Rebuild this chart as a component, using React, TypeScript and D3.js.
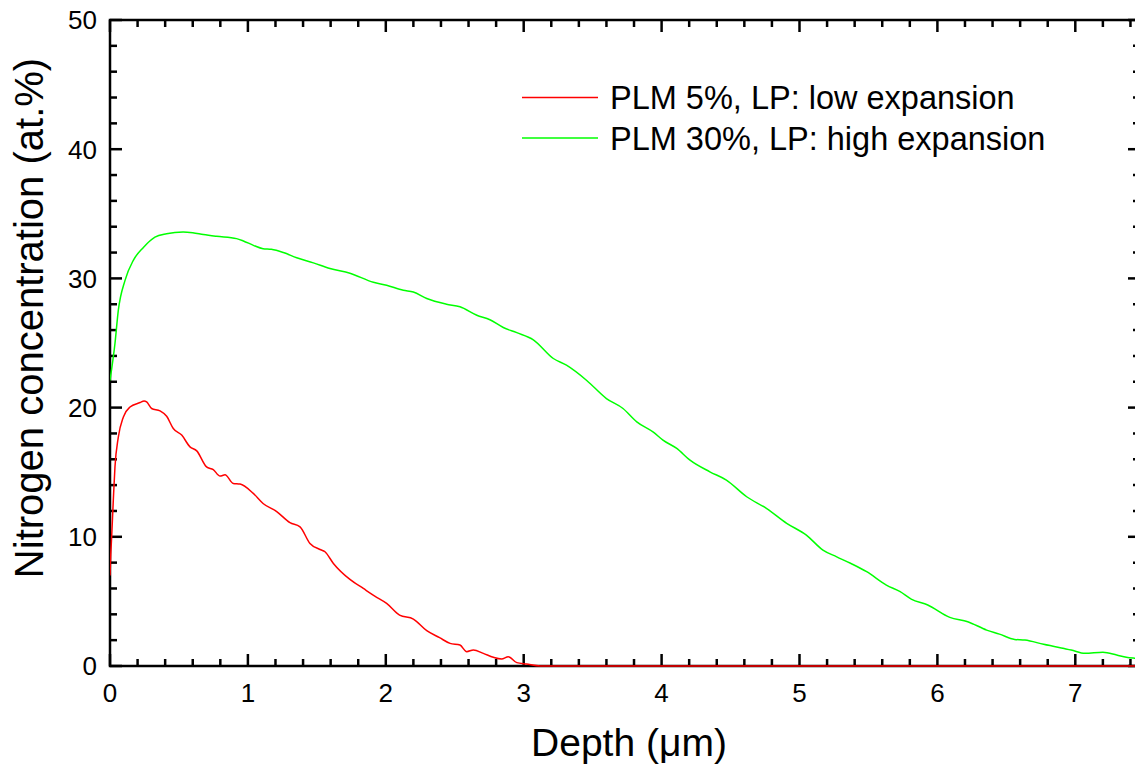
import React from "react";
import * as d3 from "d3";

const W = 1135;
const H = 769;

// Depth (µm) / nitrogen concentration (at.%)
const greenDepth = [0, 0.036, 0.06, 0.109, 0.169, 0.242, 0.326, 0.41, 0.53, 0.6, 0.677, 0.773, 0.918, 0.967, 1.04, 1.11, 1.17, 1.257, 1.354, 1.475, 1.595, 1.74, 1.91, 2.006, 2.127, 2.2, 2.297, 2.44, 2.538, 2.66, 2.755, 2.852, 2.95, 3.07, 3.215, 3.31, 3.457, 3.6, 3.72, 3.82, 3.94, 4.01, 4.11, 4.206, 4.35, 4.47, 4.617, 4.76, 4.907, 5.05, 5.17, 5.27, 5.37, 5.487, 5.63, 5.73, 5.81, 5.93, 6.09, 6.22, 6.357, 6.45, 6.56, 6.635, 6.77, 6.91, 6.97, 7.07, 7.2, 7.3, 7.37, 7.43, 7.5];
const greenConc = [22.1, 24.96, 27.5, 29.85, 31.4, 32.4, 33.2, 33.46, 33.6, 33.54, 33.4, 33.26, 33.08, 32.9, 32.56, 32.3, 32.25, 32.0, 31.6, 31.2, 30.76, 30.4, 29.7, 29.47, 29.08, 28.95, 28.44, 28.0, 27.8, 27.15, 26.8, 26.2, 25.8, 25.25, 23.8, 23.28, 22.1, 20.7, 19.93, 18.9, 18.1, 17.48, 16.84, 15.93, 15.03, 14.39, 13.1, 12.2, 11.04, 10.13, 8.97, 8.45, 7.95, 7.3, 6.26, 5.75, 5.18, 4.72, 3.76, 3.43, 2.78, 2.47, 2.06, 2.01, 1.68, 1.37, 1.24, 0.98, 1.06, 0.85, 0.67, 0.6, 0.55];

const redDepth = [0, 0.005, 0.012, 0.024, 0.036, 0.06, 0.097, 0.145, 0.218, 0.247, 0.266, 0.302, 0.363, 0.411, 0.459, 0.52, 0.58, 0.629, 0.7, 0.749, 0.798, 0.834, 0.894, 0.943, 1.039, 1.11, 1.209, 1.305, 1.378, 1.45, 1.523, 1.559, 1.62, 1.74, 1.837, 1.92, 2.006, 2.1, 2.2, 2.297, 2.39, 2.466, 2.538, 2.587, 2.635, 2.707, 2.78, 2.84, 2.888, 2.95, 3.02, 3.12, 4, 5, 6, 7, 7.5];
const redConc = [7.0, 8.5, 10.0, 12.84, 15.4, 17.7, 19.28, 20.05, 20.39, 20.52, 20.44, 19.93, 19.75, 19.33, 18.38, 17.87, 16.96, 16.65, 15.41, 15.2, 14.7, 14.8, 14.13, 14.08, 13.36, 12.58, 11.95, 11.1, 10.77, 9.49, 9.02, 8.84, 7.94, 6.7, 6.0, 5.41, 4.85, 3.94, 3.63, 2.73, 2.19, 1.75, 1.62, 1.11, 1.24, 0.98, 0.67, 0.54, 0.72, 0.26, 0.15, 0, 0, 0, 0, 0, 0];

const xTicks = [0, 1, 2, 3, 4, 5, 6, 7];
const yTicks = [0, 10, 20, 30, 40, 50];
const seriesNames = ["PLM 5%, LP: low expansion", "PLM 30%, LP: high expansion"];
const seriesColors = ["#ff0000", "#00ff00"];

const FONT = "Arial, 'Liberation Sans', Helvetica, sans-serif";

export default function App() {
  const left = 110, top = 20, right = 1140, bottom = 666;
  const x = d3.scaleLinear().domain([0, (right - left) / 137.9]).range([left, right]);
  const y = d3.scaleLinear().domain([0, 50]).range([bottom, top]);

  const xMinor = d3.range(0, 7.6, 0.2).filter((v) => x(v) <= right + 0.5);
  const yMinor = d3.range(0, 50.01, 2);

  const line = d3
    .line<[number, number]>()
    .x((d) => x(d[0]))
    .y((d) => y(d[1]))
    .curve(d3.curveMonotoneX);

  const green: [number, number][] = greenDepth.map((d, i) => [d, greenConc[i]]);
  const red: [number, number][] = redDepth.map((d, i) => [d, redConc[i]]);

  const axisStroke = 2.5;
  const major = 12;
  const minor = 7;

  return (
    <div style={{ position: "fixed", left: 0, top: 0, width: W, height: H, background: "#fff" }}>
      <svg width={W} height={H} style={{ display: "block" }} fontFamily={FONT}>
        <defs>
          <clipPath id="plot">
            <rect x={left} y={top - 2} width={right - left} height={bottom - top + 4} />
          </clipPath>
        </defs>
        {/* frame */}
        <rect x={left} y={top} width={right - left} height={bottom - top} fill="none" stroke="#000" strokeWidth={axisStroke} />
        {xMinor.map((v, i) => {
          const isMajor = Math.abs(v - Math.round(v)) < 1e-6;
          const len = isMajor ? major : minor;
          return (
            <g key={"xt" + i} stroke="#000" strokeWidth={2.5}>
              <line x1={x(v)} x2={x(v)} y1={bottom} y2={bottom - len} />
              <line x1={x(v)} x2={x(v)} y1={top} y2={top + len} />
            </g>
          );
        })}
        {yMinor.map((v, i) => {
          const isMajor = Math.abs(v % 10) < 1e-6;
          const len = isMajor ? major : minor;
          return (
            <g key={"yt" + i} stroke="#000" strokeWidth={2.5}>
              <line x1={left} x2={left + len} y1={y(v)} y2={y(v)} />
              <line x1={right} x2={right - len} y1={y(v)} y2={y(v)} />
            </g>
          );
        })}
        {xTicks.map((v) => (
          <text key={"xl" + v} x={x(v)} y={702} fontSize={26} textAnchor="middle" fill="#000">
            {v}
          </text>
        ))}
        {yTicks.map((v) => (
          <text key={"yl" + v} x={97} y={y(v) + 9.3} fontSize={26} textAnchor="end" fill="#000">
            {v}
          </text>
        ))}
        <g clipPath="url(#plot)" fill="none" strokeWidth={1.5}>
          <path d={line(green) || ""} stroke={seriesColors[1]} />
          <path d={line(red) || ""} stroke={seriesColors[0]} />
        </g>
        {seriesNames.map((name, i) => (
          <g key={"lg" + i}>
            <line x1={522} x2={598} y1={97.5 + i * 40.5} y2={97.5 + i * 40.5} stroke={seriesColors[i]} strokeWidth={1.5} />
            <text x={610} y={109 + i * 40.5} fontSize={32.5} fill="#000">
              {name}
            </text>
          </g>
        ))}
        <text x={629} y={756} fontSize={39} textAnchor="middle" fill="#000">
          Depth (μm)
        </text>
        <text transform={`translate(43,318) rotate(-90)`} fontSize={40} textAnchor="middle" fill="#000">
          Nitrogen concentration (at.%)
        </text>
      </svg>
    </div>
  );
}
